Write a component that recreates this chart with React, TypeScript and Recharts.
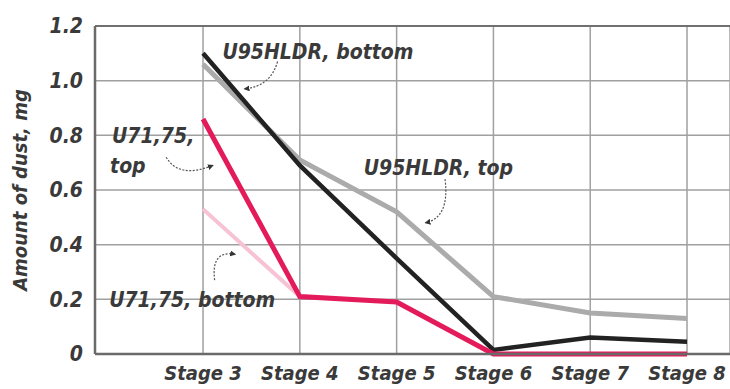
import React from 'react';
import { LineChart, Line, XAxis, YAxis, CartesianGrid, ReferenceLine } from 'recharts';

// Stage numbers on the x axis and the amount of dust (mg) per series
const stages = [3, 4, 5, 6, 7, 8];
const u95Bottom = [1.1, 0.69, 0.35, 0.015, 0.06, 0.045];
const u95Top = [1.06, 0.71, 0.52, 0.21, 0.15, 0.13];
const u71Top = [0.86, 0.21, 0.19, 0.0, 0.0, 0.0];
const u71Bottom = [0.53, 0.21, null, null, null, null];
const yTicks = [0, 0.2, 0.4, 0.6, 0.8, 1.0, 1.2];

const W = 730;
const H = 389;
const MARGIN = { top: 26, right: 0, bottom: 5, left: 35 };
const Y_AXIS_W = 60;
const X_AXIS_H = 30;
const X_DOMAIN: [number, number] = [1.884, 8.444];
const Y_DOMAIN: [number, number] = [0, 1.2];

const FONT = '"DejaVu Sans Condensed", "Liberation Sans Narrow", "DejaVu Sans", sans-serif';
const TEXT = '#3a3a3a';

const data = stages.map((s, i) => ({
  stage: s,
  u95Bottom: u95Bottom[i],
  u95Top: u95Top[i],
  u71Top: u71Top[i],
  u71Bottom: u71Bottom[i],
}));

// same linear mapping as the chart, used for the annotation overlay
const plotLeft = MARGIN.left + Y_AXIS_W;
const plotRight = W - MARGIN.right;
const plotTop = MARGIN.top;
const plotBottom = H - MARGIN.bottom - X_AXIS_H;
const px = (v: number) => plotLeft + ((v - X_DOMAIN[0]) / (X_DOMAIN[1] - X_DOMAIN[0])) * (plotRight - plotLeft);
const py = (v: number) => plotBottom - ((v - Y_DOMAIN[0]) / (Y_DOMAIN[1] - Y_DOMAIN[0])) * (plotBottom - plotTop);

// annotation labels, in data coordinates
const labels = [
  { text: 'U95HLDR, bottom', x: 3.2, y: 1.105 },
  { text: 'U95HLDR, top', x: 4.66, y: 0.68 },
  { text: 'U71,75,', x: 2.06, y: 0.8 },
  { text: 'top', x: 2.04, y: 0.69 },
  { text: 'U71,75, bottom', x: 2.03, y: 0.2 },
];

// curved pointer arrows: start, control, end (data coordinates)
const arrows = [
  { from: [3.77, 1.07], ctrl: [3.7, 0.98], to: [3.43, 0.97] },
  { from: [5.5, 0.64], ctrl: [5.55, 0.5], to: [5.3, 0.48] },
  { from: [2.62, 0.72], ctrl: [2.75, 0.64], to: [3.1, 0.69] },
  { from: [3.12, 0.27], ctrl: [3.08, 0.38], to: [3.33, 0.365] },
];

function StageTick(props: any) {
  const { x, y, payload } = props;
  return (
    <text x={x} y={y} dy="0.71em" textAnchor="middle" fill={TEXT} fontFamily={FONT}
      fontSize={20} fontWeight="bold" fontStyle="italic">
      {`Stage ${payload.value}`}
    </text>
  );
}

function DustTick(props: any) {
  const { x, y, payload } = props;
  const v = payload.value;
  return (
    <text x={x} y={y} dy="0.35em" textAnchor="end" fill={TEXT} fontFamily={FONT}
      fontSize={21} fontWeight="bold" fontStyle="italic">
      {v === 0 ? '0' : v.toFixed(1)}
    </text>
  );
}

export default function App() {
  return (
    <div style={{ position: 'absolute', left: 0, top: 0, width: W, height: H, background: '#fff' }}>
      <LineChart width={W} height={H} data={data} margin={MARGIN}>
        <CartesianGrid stroke="#a0a0a0" strokeWidth={1.5} vertical horizontal />
        <ReferenceLine y={1.2} stroke="#707070" strokeWidth={2} />
        <XAxis
          dataKey="stage"
          type="number"
          domain={X_DOMAIN}
          ticks={stages}
          allowDataOverflow
          height={X_AXIS_H}
          tickLine={false}
          tickSize={0}
          tickMargin={12}
          axisLine={{ stroke: '#6a6a6a', strokeWidth: 2.5 }}
          tick={<StageTick />}
        />
        <YAxis
          domain={Y_DOMAIN}
          ticks={yTicks}
          width={Y_AXIS_W}
          tickLine={false}
          tickSize={0}
          tickMargin={12}
          axisLine={{ stroke: '#6a6a6a', strokeWidth: 2.5 }}
          tick={<DustTick />}
          label={{
            value: 'Amount of dust, mg',
            angle: -90,
            position: 'insideLeft',
            offset: -15,
            style: { fontFamily: FONT, fontSize: 20, fontWeight: 'bold', fontStyle: 'italic', fill: TEXT, textAnchor: 'middle' },
          }}
        />
        <Line dataKey="u71Bottom" stroke="#f6c2d4" strokeWidth={4} dot={false} isAnimationActive={false} />
        <Line dataKey="u95Top" stroke="#ababab" strokeWidth={5} dot={false} isAnimationActive={false} />
        <Line dataKey="u95Bottom" stroke="#222222" strokeWidth={4.5} dot={false} isAnimationActive={false} />
        <Line dataKey="u71Top" stroke="#e31b5b" strokeWidth={5} dot={false} isAnimationActive={false} />
      </LineChart>
      <svg width={W} height={H} style={{ position: 'absolute', left: 0, top: 0, pointerEvents: 'none' }}>
        <defs>
          <marker id="head" viewBox="0 0 10 10" refX="8" refY="5" markerWidth="5" markerHeight="5" orient="auto">
            <path d="M0,0 L10,5 L0,10 z" fill="#333" />
          </marker>
        </defs>
        {arrows.map((a, i) => (
          <path
            key={i}
            d={`M${px(a.from[0])},${py(a.from[1])} Q${px(a.ctrl[0])},${py(a.ctrl[1])} ${px(a.to[0])},${py(a.to[1])}`}
            fill="none"
            stroke="#555"
            strokeWidth={1.2}
            strokeDasharray="2 1.5"
            markerEnd="url(#head)"
          />
        ))}
        {labels.map((l) => (
          <text key={l.text} x={px(l.x)} y={py(l.y)} dy="0.35em" fill={TEXT} fontFamily={FONT}
            fontSize={21} fontWeight="bold" fontStyle="italic">
            {l.text}
          </text>
        ))}
      </svg>
    </div>
  );
}
